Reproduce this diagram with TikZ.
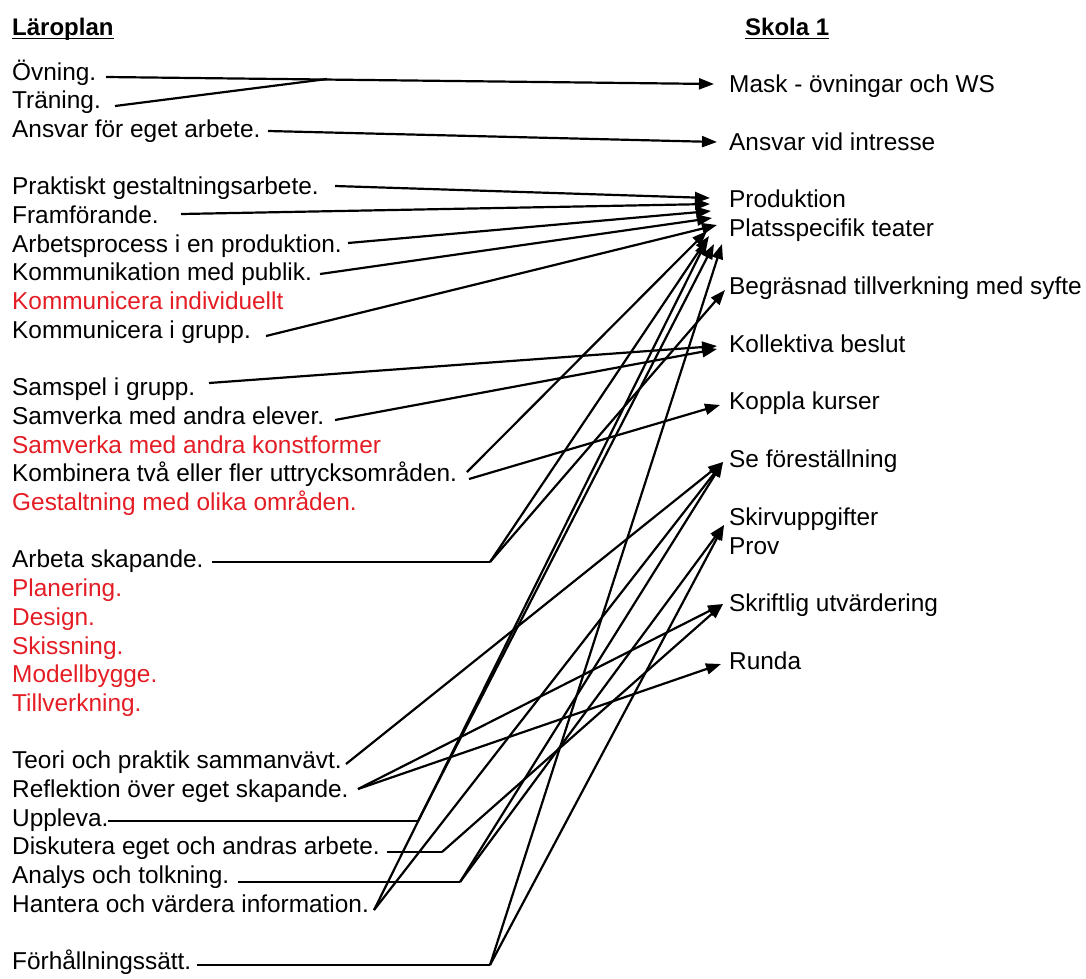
\documentclass[tikz,border=0pt]{standalone}
\usepackage{fontspec}
\setmainfont{Liberation Sans}
\usetikzlibrary{arrows.meta}
\definecolor{redtxt}{RGB}{228,28,36}
\begin{document}
\begin{tikzpicture}[x=1pt,y=-1pt,
  item/.style={anchor=base west,inner sep=0pt,font=\fontsize{24.4}{29}\selectfont},
  reditem/.style={item,text=redtxt},
  head/.style={anchor=base west,inner sep=0pt,font=\fontsize{24}{29}\selectfont\bfseries},
  link/.style={line width=2.2pt},
  conn/.style={link,-{Triangle[length=15pt,width=11pt]}}]
\useasboundingbox (0,0) rectangle (1086,978);

% headings
\node[head] (hl) at (12,35) {Läroplan};
\node[head] (hr) at (745,35) {Skola 1};
\draw[line width=1.8pt] ([yshift=-3.5pt]hl.base west) -- ([yshift=-3.5pt]hl.base east);
\draw[line width=1.8pt] ([yshift=-3.5pt]hr.base west) -- ([yshift=-3.5pt]hr.base east);

% curriculum items (left column)
\node[item] (l0) at (12,80.0) {Övning.};
\node[item] (l1) at (12,108.7) {Träning.};
\node[item] (l2) at (12,137.4) {Ansvar för eget arbete.};
\node[item] (l4) at (12,194.8) {Praktiskt gestaltningsarbete.};
\node[item] (l5) at (12,223.5) {Framförande.};
\node[item] (l6) at (12,252.2) {Arbetsprocess i en produktion.};
\node[item] (l7) at (12,280.9) {Kommunikation med publik.};
\node[reditem] (l8) at (12,309.6) {Kommunicera individuellt};
\node[item] (l9) at (12,338.3) {Kommunicera i grupp.};
\node[item] (l11) at (12,395.7) {Samspel i grupp.};
\node[item] (l12) at (12,424.4) {Samverka med andra elever.};
\node[reditem] (l13) at (12,453.1) {Samverka med andra konstformer};
\node[item] (l14) at (12,481.8) {Kombinera två eller fler uttrycksområden.};
\node[reditem] (l15) at (12,510.5) {Gestaltning med olika områden.};
\node[item] (l17) at (12,567.9) {Arbeta skapande.};
\node[reditem] (l18) at (12,596.6) {Planering.};
\node[reditem] (l19) at (12,625.3) {Design.};
\node[reditem] (l20) at (12,654.0) {Skissning.};
\node[reditem] (l21) at (12,682.7) {Modellbygge.};
\node[reditem] (l22) at (12,711.4) {Tillverkning.};
\node[item] (l24) at (12,768.8) {Teori och praktik sammanvävt.};
\node[item] (l25) at (12,797.5) {Reflektion över eget skapande.};
\node[item] (l26) at (12,826.2) {Uppleva.};
\node[item] (l27) at (12,854.9) {Diskutera eget och andras arbete.};
\node[item] (l28) at (12,883.6) {Analys och tolkning.};
\node[item] (l29) at (12,912.3) {Hantera och värdera information.};
\node[item] (l31) at (12,969.7) {Förhållningssätt.};

% school practice items (right column)
\node[item] (r0) at (729,92.5) {Mask - övningar och WS};
\node[item] (r2) at (729,150.2) {Ansvar vid intresse};
\node[item] (r4) at (729,207.9) {Produktion};
\node[item] (r5) at (729,236.8) {Platsspecifik teater};
\node[item] (r7) at (729,294.5) {Begräsnad tillverkning med syfte};
\node[item] (r9) at (729,352.2) {Kollektiva beslut};
\node[item] (r11) at (729,409.9) {Koppla kurser};
\node[item] (r13) at (729,467.6) {Se föreställning};
\node[item] (r15) at (729,525.3) {Skirvuppgifter};
\node[item] (r16) at (729,554.1) {Prov};
\node[item] (r18) at (729,611.8) {Skriftlig utvärdering};
\node[item] (r20) at (729,669.5) {Runda};

% line start points
\coordinate (s-ovn) at (106,77);
\coordinate (s-tra) at (115,106);
\coordinate (s-ans) at (268,131);
\coordinate (s-pra) at (335,186);
\coordinate (s-fra) at (181,214);
\coordinate (s-arp) at (348,243);
\coordinate (s-kom) at (320,274);
\coordinate (s-kgr) at (266,336);
\coordinate (s-sam) at (209,383);
\coordinate (s-sme) at (335,420);
\coordinate (s-kb1) at (467,472);
\coordinate (s-kb2) at (469,479);
\coordinate (s-ask) at (212,562);
\coordinate (s-teo) at (346,764);
\coordinate (s-ref) at (358,789);
\coordinate (s-upp) at (108,821);
\coordinate (s-dis) at (387,852);
\coordinate (s-ana) at (238,882);
\coordinate (s-han) at (374,910);
\coordinate (s-fhs) at (197,965);

% bends and junctions
\coordinate (j-mask) at (327,79);
\coordinate (j-ask) at (490,562);
\coordinate (j-upp) at (418,821);
\coordinate (j-dis) at (442,852);
\coordinate (j-ana) at (460,882);
\coordinate (j-fhs) at (490,965);

% arrow tips
\coordinate (t-mask) at (714,84);
\coordinate (t-ans) at (717,142);
\coordinate (t-p1) at (710,198);
\coordinate (t-p2) at (710,204);
\coordinate (t-p3) at (711,211);
\coordinate (t-p4) at (712,218);
\coordinate (t-p5) at (717,225);
\coordinate (t-p6) at (707,231);
\coordinate (t-p7) at (709,236);
\coordinate (t-p8) at (707,240);
\coordinate (t-p9) at (714,244);
\coordinate (t-p10) at (722,244);
\coordinate (t-beg) at (725,290);
\coordinate (t-kol1) at (717,346);
\coordinate (t-kol2) at (717,349);
\coordinate (t-kop) at (720,405);
\coordinate (t-se) at (723,462);
\coordinate (t-skr) at (724,525);
\coordinate (t-utv) at (723,604);
\coordinate (t-run) at (721,664);

% connectors
\draw[conn] (s-ovn) -- (t-mask);
\draw[link] (s-tra) -- (j-mask);
\draw[conn] (s-ans) -- (t-ans);
\draw[conn] (s-pra) -- (t-p1);
\draw[conn] (s-fra) -- (t-p2);
\draw[conn] (s-arp) -- (t-p3);
\draw[conn] (s-kom) -- (t-p4);
\draw[conn] (s-kgr) -- (t-p5);
\draw[conn] (s-sam) -- (t-kol1);
\draw[conn] (s-sme) -- (t-kol2);
\draw[conn] (s-kb1) -- (t-p6);
\draw[conn] (s-kb2) -- (t-kop);
\draw[link] (s-ask) -- (j-ask);
\draw[conn] (j-ask) -- (t-p7);
\draw[conn] (j-ask) -- (t-beg);
\draw[conn] (s-teo) -- (t-se);
\draw[conn] (s-ref) -- (t-utv);
\draw[conn] (s-ref) -- (t-run);
\draw[link] (s-upp) -- (j-upp);
\draw[conn] (j-upp) -- (t-p9);
\draw[link] (s-dis) -- (j-dis);
\draw[conn] (j-dis) -- (t-utv);
\draw[link] (s-ana) -- (j-ana);
\draw[conn] (j-ana) -- (t-se);
\draw[conn] (j-ana) -- (t-skr);
\draw[conn] (s-han) -- (t-p8);
\draw[conn] (s-han) -- (t-se);
\draw[link] (s-fhs) -- (j-fhs);
\draw[conn] (j-fhs) -- (t-p10);
\draw[conn] (j-fhs) -- (t-skr);
\end{tikzpicture}
\end{document}
